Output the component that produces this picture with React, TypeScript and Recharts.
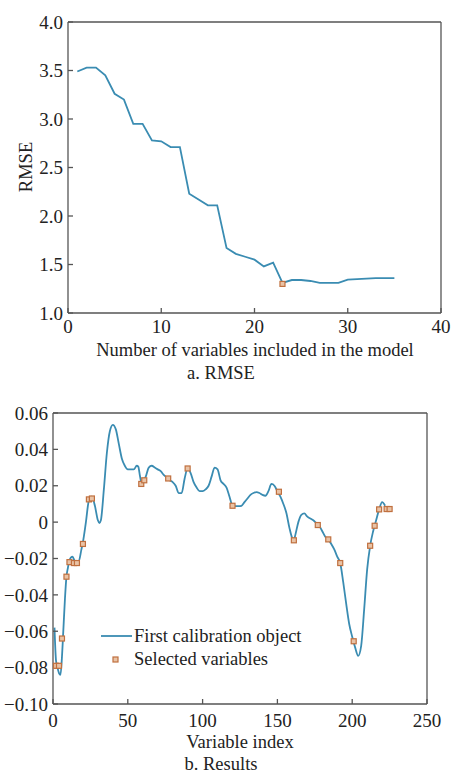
import { ComposedChart, Line, Scatter, XAxis, YAxis, Legend } from 'recharts';

// a. RMSE vs number of variables
const varCount = [1, 2, 3, 4, 5, 6, 7, 8, 9, 10, 11, 12, 13, 14, 15, 16, 17, 18, 19, 20, 21, 22, 23, 24, 25, 26, 27, 28, 29, 30, 31, 32, 33, 34, 35];
const rmseValues = [3.49, 3.53, 3.53, 3.45, 3.26, 3.2, 2.95, 2.95, 2.78, 2.77, 2.71, 2.71, 2.23, 2.17, 2.11, 2.11, 1.67, 1.61, 1.58, 1.55, 1.48, 1.52, 1.31, 1.34, 1.34, 1.33, 1.31, 1.31, 1.31, 1.345, 1.35, 1.355, 1.36, 1.36, 1.36];
const bestCount = [23];
const bestRmse = [1.3];

// b. results
const varIndex = [1, 2, 3, 4, 5, 6, 7, 8, 9, 10, 11, 13, 15, 17, 19, 20, 22, 24, 26, 28, 30, 31, 32, 34, 36, 38, 40, 42, 44, 46, 48, 50, 52, 54, 56, 57, 58, 59, 60, 62, 64, 66, 68, 70, 72, 74, 76, 78, 80, 82, 84, 86, 88, 90, 92, 94, 96, 98, 100, 102, 104, 106, 108, 110, 112, 114, 116, 118, 120, 122, 124, 126, 128, 130, 132, 134, 136, 138, 140, 142, 144, 146, 148, 150, 152, 154, 156, 158, 160, 161, 162, 164, 166, 168, 170, 172, 174, 176, 178, 180, 182, 184, 186, 188, 190, 192, 194, 196, 198, 200, 202, 204, 206, 208, 210, 212, 214, 216, 218, 220, 222];
const calibValues = [-0.058, -0.076, -0.08, -0.083, -0.084, -0.074, -0.058, -0.042, -0.03, -0.025, -0.021, -0.019, -0.022, -0.022, -0.015, -0.011, 0.0, 0.012, 0.014, 0.009, 0.001, -0.0005, 0.001, 0.018, 0.038, 0.05, 0.0535, 0.051, 0.043, 0.035, 0.031, 0.029, 0.029, 0.029, 0.031, 0.0305, 0.026, 0.022, 0.0215, 0.025, 0.03, 0.031, 0.03, 0.029, 0.028, 0.026, 0.0245, 0.023, 0.022, 0.02, 0.016, 0.016, 0.024, 0.0295, 0.027, 0.022, 0.019, 0.017, 0.017, 0.018, 0.02, 0.025, 0.03, 0.029, 0.023, 0.021, 0.019, 0.014, 0.009, 0.0088, 0.0088, 0.009, 0.011, 0.013, 0.015, 0.016, 0.0165, 0.016, 0.015, 0.0145, 0.017, 0.021, 0.02, 0.017, 0.014, 0.01, 0.005, -0.003, -0.009, -0.01, -0.007, 0.0, 0.004, 0.0048, 0.003, 0.002, 0.001, -0.0005, -0.002, -0.005, -0.008, -0.0095, -0.012, -0.015, -0.019, -0.0225, -0.033, -0.045, -0.056, -0.063, -0.069, -0.0735, -0.068, -0.048, -0.026, -0.013, -0.005, 0.001, 0.007, 0.011, 0.009];
const selectedIndex = [2, 4, 6, 9, 11, 14, 16, 20, 24, 26, 59, 61, 77, 90, 120, 151, 161, 177, 184, 192, 201, 212, 215, 218, 223, 225];
const selectedValues = [-0.079, -0.079, -0.064, -0.03, -0.022, -0.0225, -0.0225, -0.012, 0.0125, 0.013, 0.021, 0.023, 0.024, 0.0295, 0.009, 0.0167, -0.01, -0.0016, -0.0095, -0.0225, -0.0655, -0.013, -0.002, 0.007, 0.0072, 0.0072];

const rmseTicksX = [0, 10, 20, 30, 40];
const rmseTicksY = [1.0, 1.5, 2.0, 2.5, 3.0, 3.5, 4.0];
const resTicksX = [0, 50, 100, 150, 200, 250];
const resTicksY = [-0.1, -0.08, -0.06, -0.04, -0.02, 0, 0.02, 0.04, 0.06];

const rmseData = varCount.map((x, i) => ({ x, y: rmseValues[i] }));
const bestData = bestCount.map((x, i) => ({ x, y: bestRmse[i] }));
const calibData = varIndex.map((x, i) => ({ x, y: calibValues[i] }));
const selectedData = selectedIndex.map((x, i) => ({ x, y: selectedValues[i] }));

const FONT = '"Liberation Serif", "Times New Roman", serif';
const LINE = '#3a8cb2';
const AXIS = '#555';
const tickStyle = { fontSize: 19, fill: '#222', fontFamily: FONT };

const Square = (props: any) => {
  const { cx, cy } = props;
  if (cx == null || cy == null) return null;
  return <rect x={cx - 2.5} y={cy - 2.5} width={5} height={5} fill="#e9c3a6" stroke="#c0703f" strokeWidth={1.2} />;
};

const fmtRes = (v: number) => (v === 0 ? '0' : v.toFixed(2).replace('-', '\u2212'));

const Caption = ({ x, y, text, rotate }: { x: number; y: number; text: string; rotate?: boolean }) => (
  <div
    style={{
      position: 'absolute',
      left: x,
      top: y,
      transform: `translate(-50%, -50%)${rotate ? ' rotate(-90deg)' : ''}`,
      whiteSpace: 'nowrap',
      fontFamily: FONT,
      fontSize: 18.5,
      lineHeight: 1.1,
      color: '#222',
    }}
  >
    {text}
  </div>
);

const LegendBox = () => (
  <div style={{ fontFamily: FONT, fontSize: 18.5, color: '#222', lineHeight: '23px' }}>
    <div style={{ display: 'flex', alignItems: 'center' }}>
      <svg width={34} height={23}>
        <line x1={1} y1={11} x2={32} y2={11} stroke={LINE} strokeWidth={1.8} />
      </svg>
      <span>First calibration object</span>
    </div>
    <div style={{ display: 'flex', alignItems: 'center' }}>
      <svg width={34} height={23}>
        <rect x={13} y={9} width={5} height={5} fill="#e9c3a6" stroke="#c0703f" strokeWidth={1.2} />
      </svg>
      <span>Selected variables</span>
    </div>
  </div>
);

export default function App() {
  return (
    <div style={{ position: 'absolute', left: 0, top: 0, width: 452, height: 776, background: '#fff' }}>
      <div style={{ position: 'absolute', left: 0, top: 0 }}>
        <ComposedChart width={452} height={380} margin={{ top: 17, right: 6, bottom: 0, left: 0 }}>
          <XAxis
            xAxisId="b"
            dataKey="x"
            type="number"
            domain={[0, 40]}
            ticks={rmseTicksX}
            height={67}
            tickSize={-5}
            tickMargin={12}
            stroke={AXIS}
            strokeWidth={1.3}
            tick={tickStyle}
            interval={0}
          />
          <XAxis
            xAxisId="t"
            orientation="top"
            dataKey="x"
            type="number"
            domain={[0, 40]}
            ticks={rmseTicksX}
            height={5}
            tickSize={-5}
            stroke={AXIS}
            strokeWidth={1.3}
            tickFormatter={() => ''}
          />
          <YAxis
            yAxisId="l"
            type="number"
            domain={[1, 4]}
            ticks={rmseTicksY}
            width={68}
            tickSize={-5}
            tickMargin={10}
            stroke={AXIS}
            strokeWidth={1.3}
            tick={tickStyle}
            tickFormatter={(v: number) => v.toFixed(1)}
            interval={0}
          />
          <YAxis
            yAxisId="r"
            orientation="right"
            type="number"
            domain={[1, 4]}
            ticks={rmseTicksY}
            width={5}
            tickSize={-5}
            stroke={AXIS}
            strokeWidth={1.3}
            tickFormatter={() => ''}
          />
          <Line
            xAxisId="b"
            yAxisId="l"
            data={rmseData}
            dataKey="y"
            type="linear"
            stroke={LINE}
            strokeWidth={1.8}
            dot={false}
            isAnimationActive={false}
          />
          <Scatter
            xAxisId="b"
            yAxisId="l"
            data={bestData}
            dataKey="y"
            shape={Square}
            isAnimationActive={false}
          />
        </ComposedChart>
      </div>

      <div style={{ position: 'absolute', left: 0, top: 380 }}>
        <ComposedChart width={452} height={396} margin={{ top: 28, right: 20, bottom: 0, left: 0 }}>
          <XAxis
            xAxisId="b"
            dataKey="x"
            type="number"
            domain={[0, 250]}
            ticks={resTicksX}
            height={72}
            tickSize={-5}
            tickMargin={15}
            stroke={AXIS}
            strokeWidth={1.3}
            tick={tickStyle}
            interval={0}
          />
          <XAxis
            xAxisId="t"
            orientation="top"
            dataKey="x"
            type="number"
            domain={[0, 250]}
            ticks={resTicksX}
            height={5}
            tickSize={-5}
            stroke={AXIS}
            strokeWidth={1.3}
            tickFormatter={() => ''}
          />
          <YAxis
            yAxisId="l"
            type="number"
            domain={[-0.1, 0.06]}
            ticks={resTicksY}
            width={53}
            tickSize={-5}
            tickMargin={10}
            stroke={AXIS}
            strokeWidth={1.3}
            tick={tickStyle}
            tickFormatter={fmtRes}
            interval={0}
          />
          <YAxis
            yAxisId="r"
            orientation="right"
            type="number"
            domain={[-0.1, 0.06]}
            ticks={resTicksY}
            width={5}
            tickSize={-5}
            stroke={AXIS}
            strokeWidth={1.3}
            tickFormatter={() => ''}
          />
          <Line
            xAxisId="b"
            yAxisId="l"
            data={calibData}
            dataKey="y"
            type="monotone"
            stroke={LINE}
            strokeWidth={1.8}
            dot={false}
            isAnimationActive={false}
          />
          <Scatter
            xAxisId="b"
            yAxisId="l"
            data={selectedData}
            dataKey="y"
            shape={Square}
            isAnimationActive={false}
          />
          <Legend
            layout="horizontal"
            verticalAlign="middle"
            align="center"
            wrapperStyle={{ left: 100, top: 245, width: 'auto', height: 'auto' }}
            content={() => <LegendBox />}
          />
        </ComposedChart>
      </div>

      <Caption x={26} y={167} text="RMSE" rotate />
      <Caption x={255} y={350} text="Number of variables included in the model" />
      <Caption x={221} y={373} text="a. RMSE" />
      <Caption x={240} y={742} text="Variable index" />
      <Caption x={221} y={764} text="b. Results" />
    </div>
  );
}
